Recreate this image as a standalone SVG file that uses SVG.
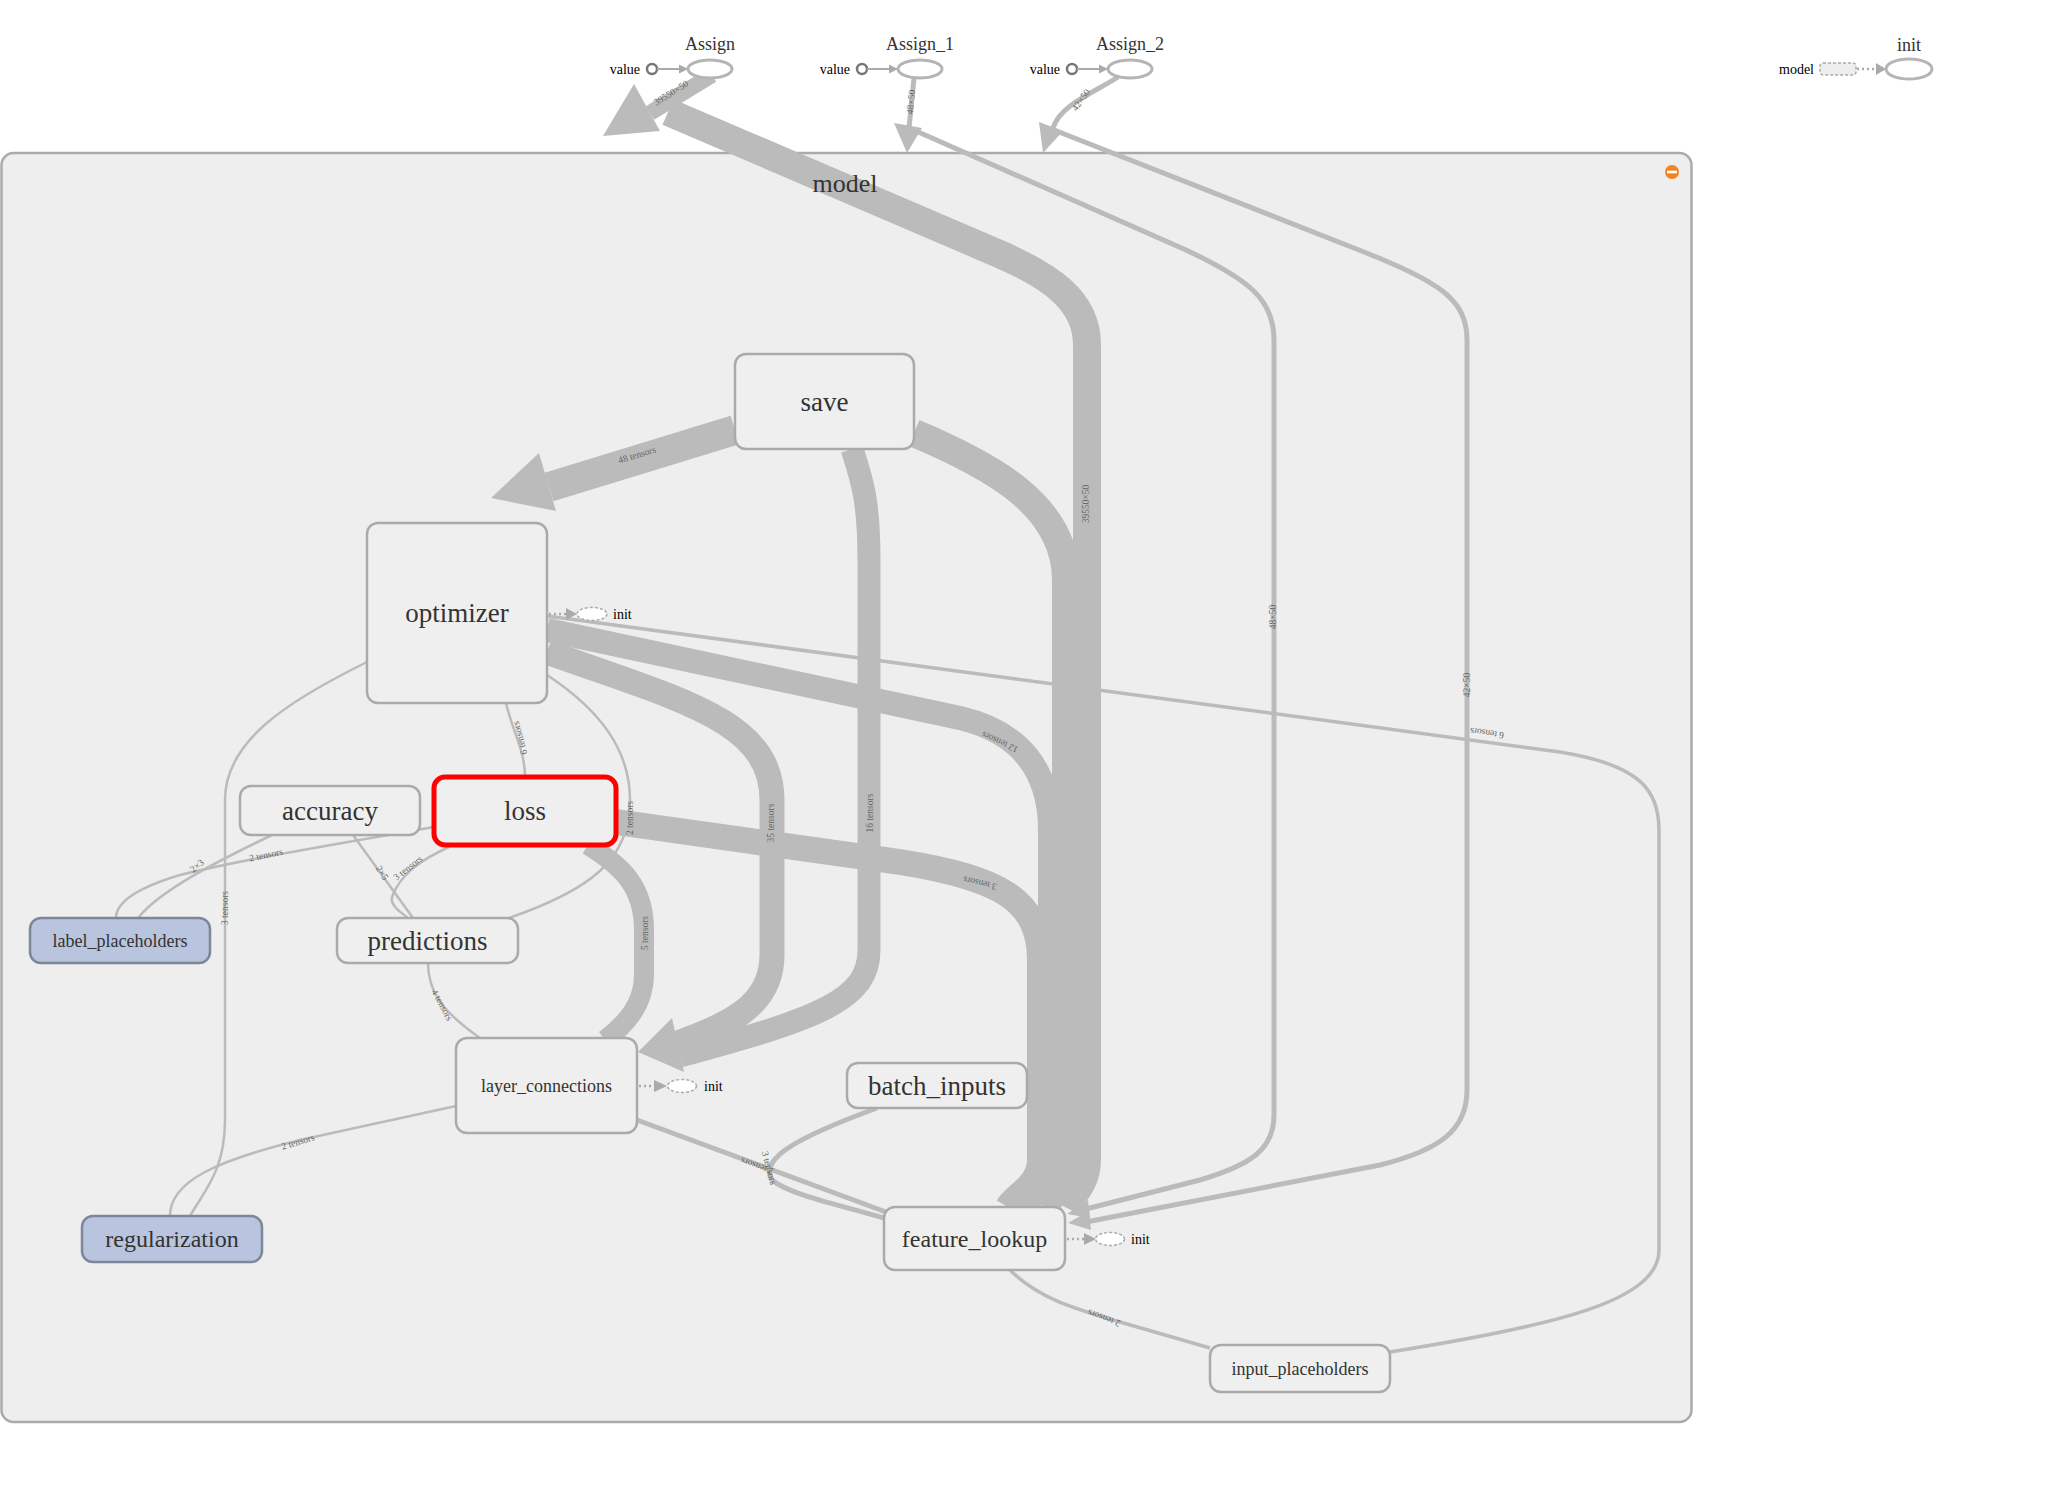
<svg xmlns="http://www.w3.org/2000/svg" width="2051" height="1507" viewBox="0 0 2051 1507">
<style>
text{font-family:"Liberation Serif","Times New Roman",serif}
.e{fill:none;stroke:#bbb;stroke-linecap:butt}
.ah{fill:#bbb;stroke:none}
.n rect{fill:#efefef;stroke:#aaa;stroke-width:2.5}
.n text{fill:#333;text-anchor:middle;dominant-baseline:central;font-size:27px}
.n.blue rect{fill:#b9c5df;stroke:#7e8799}
.el{font-size:9.5px;fill:#666;text-anchor:middle;dominant-baseline:central}
.small{font-size:14px;fill:#000;dominant-baseline:central}
.top{font-size:18px;fill:#333;text-anchor:middle}
.op{fill:#fff;stroke:#b5b5b5;stroke-width:3}
.initel{fill:#fff;stroke:#aaa;stroke-width:1.5;stroke-dasharray:3,2}
.dot{stroke:#aaa;stroke-width:2.5;stroke-dasharray:2,3;fill:none}
.gh{fill:#aaa}
</style>

<g id="model-group">
<rect x="1.5" y="153" width="1690" height="1269" rx="12" fill="#eeeeee" stroke="#aaa" stroke-width="2.5"/>
<circle cx="1672" cy="172" r="7" fill="#f5821f"/>
<rect x="1667" y="170.7" width="10" height="2.6" fill="#fff"/>
</g>

<g id="edges">
<!-- E1 39550x50 -->
<path class="e" stroke-width="28" d="M1065,1207 C1070,1197 1087,1185 1087,1160 L1087,345 C1087,300 1050,275 990,250 L668,112"/>
<path class="e" stroke-width="16" d="M712,75 L650,113"/>
<polygon class="ah" points="603,136 634,84 660,131"/>
<!-- E2 48x50 -->
<path class="e" stroke-width="5" d="M1082,1210 L1200,1180 C1250,1165 1274,1150 1274,1115 L1274,340 C1274,300 1250,280 1186,250 L916,131"/>
<path class="e" stroke-width="5" d="M914,78 L909,128"/>
<polygon class="ah" points="907,153 894,123 922,128"/>
<polygon class="ah" points="1067,1214 1088,1200 1090,1218"/>
<!-- E3 42x50 -->
<path class="e" stroke-width="5" d="M1086,1222 L1380,1165 C1440,1150 1467,1130 1467,1090 L1467,340 C1467,300 1440,282 1364,252 L1054,130"/>
<path class="e" stroke-width="5" d="M1118,77 C1095,92 1060,105 1053,128"/>
<polygon class="ah" points="1043,153 1039,122 1063,131"/>
<polygon class="ah" points="1068,1223 1089,1211 1091,1230"/>
<!-- E4 save -> optimizer -->
<path class="e" stroke-width="30" d="M735,430 L549,487"/>
<polygon class="ah" points="491,498 539,453 556,511"/>
<!-- E5 save -> feature_lookup -->
<path class="e" stroke-width="28" d="M914,433 C990,465 1066,505 1066,580 L1066,1160 C1066,1185 1050,1195 1045,1207"/>
<!-- E6 save -> layer_connections -->
<path class="e" stroke-width="23" d="M852,449 C862,480 869,500 869,560 L869,950 C869,1000 820,1018 680,1056"/>
<!-- E7 optimizer -> layer_connections -->
<path class="e" stroke-width="25" d="M547,652 C680,700 772,720 772,800 L772,955 C772,1005 730,1025 672,1045"/>
<polygon class="ah" points="638,1052 672,1018 684,1072"/>
<!-- E8 optimizer - feature_lookup -->
<path class="e" stroke-width="24" d="M547,630 L960,718 C1020,732 1050,770 1050,830 L1050,1160 C1050,1185 1030,1195 1025,1207"/>
<!-- E9 optimizer - input_placeholders -->
<path class="e" stroke-width="3.5" d="M547,616 L1560,752 C1640,765 1659,790 1659,830 L1659,1250 C1659,1300 1560,1325 1390,1352"/>
<!-- E10 loss - feature_lookup -->
<path class="e" stroke-width="26" d="M616,822 L900,862 C1000,878 1040,900 1040,960 L1040,1160 C1040,1185 1015,1195 1008,1207"/>
<!-- E11 loss -> layer_connections -->
<path class="e" stroke-width="20" d="M588,845 C620,865 644,885 644,930 L644,975 C644,1005 625,1025 605,1040"/>
<!-- thin edges -->
<path class="e" stroke-width="2.5" d="M506,703 C512,730 525,750 525,777"/>
<path class="e" stroke-width="2.5" d="M367,662 C290,700 225,740 225,800 L225,1120 C225,1170 205,1190 190,1216"/>
<path class="e" stroke-width="2.5" d="M547,675 C600,710 630,750 630,800 C630,860 590,890 509,918"/>
<path class="e" stroke-width="2.5" d="M434,827 C330,845 240,860 180,875 C130,890 116,905 116,918"/>
<path class="e" stroke-width="2.5" d="M272,835 C220,860 160,890 138,918"/>
<path class="e" stroke-width="2.5" d="M353,835 L413,918"/>
<path class="e" stroke-width="2.5" d="M449,847 C420,860 400,875 392,897 C390,905 400,912 408,918"/>
<path class="e" stroke-width="2.5" d="M428,963 C428,990 440,1010 480,1038"/>
<path class="e" stroke-width="2.5" d="M456,1106 L300,1140 C220,1160 170,1180 170,1216"/>
<path class="e" stroke-width="5" d="M637,1120 L886,1212"/>
<path class="e" stroke-width="5" d="M877,1108 C790,1140 760,1160 772,1180 C790,1195 840,1205 884,1218"/>
<path class="e" stroke-width="3.5" d="M1010,1270 C1040,1300 1080,1310 1120,1322 L1210,1348"/>

<!-- edge labels -->
<text class="el" transform="translate(671,93) rotate(-32)">39550×50</text>
<text class="el" transform="translate(911,102) rotate(-85)">48×50</text>
<text class="el" transform="translate(1081,100) rotate(-55)">42×50</text>
<text class="el" transform="translate(1086,504) rotate(-90)">39550×50</text>
<text class="el" transform="translate(1273,617) rotate(-90)">48×50</text>
<text class="el" transform="translate(1467,685) rotate(-90)">42×50</text>
<text class="el" transform="translate(637,455) rotate(-17)">48 tensors</text>
<text class="el" transform="translate(1000,742) rotate(205)">12 tensors</text>
<text class="el" transform="translate(1487,733) rotate(188)">6 tensors</text>
<text class="el" transform="translate(771,823) rotate(-90)">35 tensors</text>
<text class="el" transform="translate(870,813) rotate(-90)">16 tensors</text>
<text class="el" transform="translate(630,818) rotate(-90)">2 tensors</text>
<text class="el" transform="translate(980,883) rotate(193)">3 tensors</text>
<text class="el" transform="translate(645,933) rotate(-90)">5 tensors</text>
<text class="el" transform="translate(520,738) rotate(-105)">6 tensors</text>
<text class="el" transform="translate(225,908) rotate(-90)">3 tensors</text>
<text class="el" transform="translate(266,855) rotate(-12)">2 tensors</text>
<text class="el" transform="translate(197,866) rotate(-40)">2×3</text>
<text class="el" transform="translate(382,873) rotate(58)">2×5</text>
<text class="el" transform="translate(408,868) rotate(-38)">3 tensors</text>
<text class="el" transform="translate(442,1005) rotate(62)">4 tensors</text>
<text class="el" transform="translate(298,1142) rotate(-17)">2 tensors</text>
<text class="el" transform="translate(757,1166) rotate(200)">2 tensors</text>
<text class="el" transform="translate(769,1168) rotate(75)">3 tensors</text>
<text class="el" transform="translate(1104,1318) rotate(200)">2 tensors</text>
</g>

<g id="model-label">
<text x="845" y="192" font-size="26" fill="#333" text-anchor="middle">model</text>
</g>

<g id="node-save" class="n"><rect x="735" y="354" width="179" height="95" rx="11"/><text x="824.5" y="401.5">save</text></g>
<g id="node-optimizer" class="n"><rect x="367" y="523" width="180" height="180" rx="11"/><text x="457" y="613">optimizer</text></g>
<g id="node-accuracy" class="n"><rect x="240" y="786" width="180" height="49" rx="11"/><text x="330" y="810.5">accuracy</text></g>
<g id="node-loss" class="n"><rect x="434" y="777" width="182" height="68" rx="11" style="stroke:#f00;stroke-width:5"/><text x="525" y="811">loss</text></g>
<g id="node-label_placeholders" class="n blue"><rect x="30" y="918" width="180" height="45" rx="11"/><text x="120" y="940.5" style="font-size:18px">label_placeholders</text></g>
<g id="node-predictions" class="n"><rect x="337" y="918" width="181" height="45" rx="11"/><text x="427.5" y="940.5">predictions</text></g>
<g id="node-layer_connections" class="n"><rect x="456" y="1038" width="181" height="95" rx="11"/><text x="546.5" y="1085.5" style="font-size:18px">layer_connections</text></g>
<g id="node-regularization" class="n blue"><rect x="82" y="1216" width="180" height="46" rx="11"/><text x="172" y="1239" style="font-size:24px">regularization</text></g>
<g id="node-batch_inputs" class="n"><rect x="847" y="1063" width="180" height="45" rx="11"/><text x="937" y="1085.5">batch_inputs</text></g>
<g id="node-feature_lookup" class="n"><rect x="884" y="1207" width="181" height="63" rx="11"/><text x="974.5" y="1238.5" style="font-size:24px">feature_lookup</text></g>
<g id="node-input_placeholders" class="n"><rect x="1210" y="1345" width="180" height="47" rx="11"/><text x="1300" y="1368.5" style="font-size:18px">input_placeholders</text></g>

<g id="init-optimizer">
<line class="dot" x1="549" y1="614" x2="567" y2="614"/>
<polygon class="gh" points="566,608 577,614 566,620"/>
<ellipse class="initel" cx="592" cy="614" rx="15" ry="6.5"/>
<text class="small" x="613" y="614">init</text>
</g>
<g id="init-layer_connections">
<line class="dot" x1="639" y1="1086" x2="654" y2="1086"/>
<polygon class="gh" points="654,1080 667,1086 654,1092"/>
<ellipse class="initel" cx="682" cy="1086" rx="14.5" ry="6.5"/>
<text class="small" x="704" y="1086">init</text>
</g>
<g id="init-feature_lookup">
<line class="dot" x1="1067" y1="1239" x2="1084" y2="1239"/>
<polygon class="gh" points="1084,1233 1096,1239 1084,1245"/>
<ellipse class="initel" cx="1110" cy="1239" rx="14.5" ry="6.5"/>
<text class="small" x="1131" y="1239">init</text>
</g>

<g id="node-Assign">
<text class="top" x="710" y="50">Assign</text>
<ellipse class="op" cx="710" cy="69" rx="22" ry="9"/>
<text class="small" x="640" y="69" text-anchor="end">value</text>
<circle cx="652" cy="69" r="5" fill="#fff" stroke="#777" stroke-width="2.5"/>
<line x1="657" y1="69" x2="680" y2="69" stroke="#aaa" stroke-width="2"/>
<polygon class="gh" points="679,64.5 688,69 679,73.5"/>
</g>
<g id="node-Assign_1">
<text class="top" x="920" y="50">Assign_1</text>
<ellipse class="op" cx="920" cy="69" rx="22" ry="9"/>
<text class="small" x="850" y="69" text-anchor="end">value</text>
<circle cx="862" cy="69" r="5" fill="#fff" stroke="#777" stroke-width="2.5"/>
<line x1="867" y1="69" x2="890" y2="69" stroke="#aaa" stroke-width="2"/>
<polygon class="gh" points="889,64.5 898,69 889,73.5"/>
</g>
<g id="node-Assign_2">
<text class="top" x="1130" y="50">Assign_2</text>
<ellipse class="op" cx="1130" cy="69" rx="22" ry="9"/>
<text class="small" x="1060" y="69" text-anchor="end">value</text>
<circle cx="1072" cy="69" r="5" fill="#fff" stroke="#777" stroke-width="2.5"/>
<line x1="1077" y1="69" x2="1100" y2="69" stroke="#aaa" stroke-width="2"/>
<polygon class="gh" points="1099,64.5 1108,69 1099,73.5"/>
</g>
<g id="node-init">
<text class="top" x="1909" y="51">init</text>
<ellipse class="op" cx="1909" cy="69" rx="23" ry="10"/>
<text class="small" x="1814" y="69" text-anchor="end">model</text>
<rect x="1820" y="63" width="36" height="12" rx="3" fill="#eee" stroke="#aaa" stroke-width="1.5" stroke-dasharray="3,2"/>
<line class="dot" x1="1857" y1="69" x2="1876" y2="69"/>
<polygon class="gh" points="1876,63 1886,69 1876,75"/>
</g>
</svg>
